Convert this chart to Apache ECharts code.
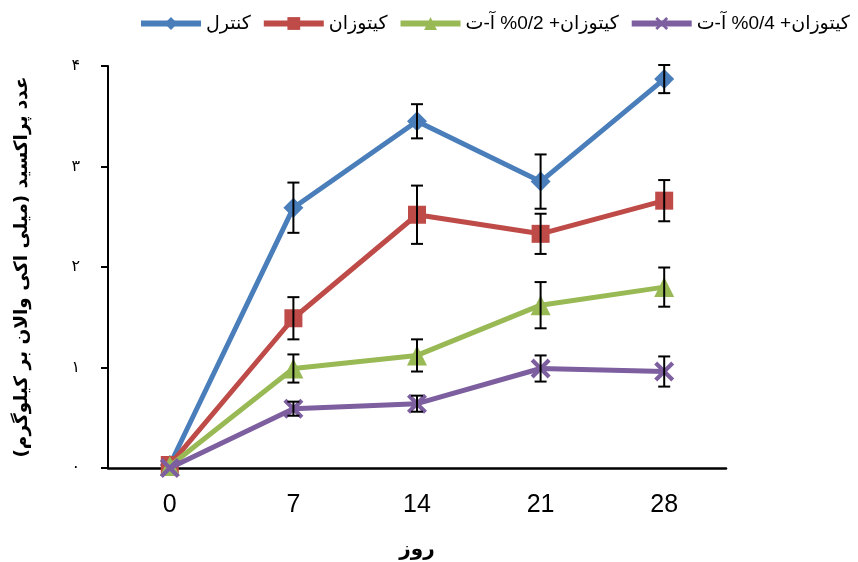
<!DOCTYPE html>
<html>
<head>
<meta charset="utf-8">
<script src="https://cdn.jsdelivr.net/npm/echarts@6/dist/echarts.min.js"></script>
<style>html,body{margin:0;padding:0;background:#fff}#c{width:858px;height:562px}</style>
</head>
<body>
<div id="c"></div>
<script>
const days = ['0', '7', '14', '21', '28'];
const seriesNames = ['کنترل', 'کیتوزان', 'کیتوزان+ 0/2% آ-ت', 'کیتوزان+ 0/4% آ-ت'];
const control = [0.03, 2.59, 3.45, 2.85, 3.87];
const controlErr = [0, 0.25, 0.17, 0.27, 0.14];
const chitosan = [0.03, 1.49, 2.52, 2.33, 2.66];
const chitosanErr = [0, 0.21, 0.29, 0.2, 0.205];
const chit02 = [0.02, 0.99, 1.12, 1.62, 1.80];
const chit02Err = [0, 0.14, 0.16, 0.23, 0.195];
const chit04 = [0.0, 0.59, 0.64, 0.99, 0.96];
const chit04Err = [0, 0.07, 0.08, 0.13, 0.15];
const yTicks = ['۰', '۱', '۲', '۳', '۴'];
const colors = ['#4a7ebb', '#be4b48', '#98b954', '#7d5fa0'];
const symbols = ['diamond', 'rect', 'triangle', 'path://M0,1.5L1.5,0L5,3.5L8.5,0L10,1.5L6.5,5L10,8.5L8.5,10L5,6.5L1.5,10L0,8.5L3.5,5Z'];
const symbolSizes = [20, 18, 20, 20];

const values = [control, chitosan, chit02, chit04];
const errs = [controlErr, chitosanErr, chit02Err, chit04Err];

const chart = echarts.init(document.getElementById('c'));
const series = [];
values.forEach((v, i) => {
  series.push({
    name: seriesNames[i], type: 'line', data: v,
    symbol: symbols[i], symbolSize: symbolSizes[i],
    lineStyle: {color: colors[i], width: 5},
    itemStyle: {color: colors[i]},
    z: 2 + i
  });
});
values.forEach((v, i) => {
  series.push({
    type: 'custom', z: 20, silent: true,
    data: v.map((val, k) => [k, val, errs[i][k]]),
    renderItem: function (params, api) {
      const x = api.value(0), val = api.value(1), e = api.value(2);
      if (!e) return null;
      const top = api.coord([x, val + e]);
      const bot = api.coord([x, val - e]);
      const w = 6;
      const st = {stroke: '#000', lineWidth: 2};
      return {type: 'group', children: [
        {type: 'line', shape: {x1: top[0], y1: top[1], x2: bot[0], y2: bot[1]}, style: st},
        {type: 'line', shape: {x1: top[0] - w, y1: top[1], x2: top[0] + w, y2: top[1]}, style: st},
        {type: 'line', shape: {x1: bot[0] - w, y1: bot[1], x2: bot[0] + w, y2: bot[1]}, style: st}
      ]};
    }
  });
});

chart.setOption({
  animation: false,
  backgroundColor: '#fff',
  legend: {
    data: seriesNames, left: 133, top: 9, width: 725, itemWidth: 60, itemHeight: 16, itemGap: 10,
    lineStyle: {width: 6},
    textStyle: {fontFamily: 'Liberation Sans, DejaVu Sans', fontSize: 19, color: '#000'}
  },
  grid: {left: 108, right: 132, top: 66, bottom: 94, containLabel: false, outerBoundsMode: 'none'},
  xAxis: {
    type: 'category', data: days,
    name: 'روز', nameLocation: 'middle', nameGap: 72,
    nameTextStyle: {fontFamily: 'DejaVu Sans', fontWeight: 'bold', fontSize: 20, color: '#000'},
    axisLine: {lineStyle: {color: '#000', width: 2.5}},
    axisTick: {show: false},
    axisLabel: {margin: 25, color: '#000', fontSize: 25, fontFamily: 'Liberation Sans'}
  },
  yAxis: {
    type: 'value', min: 0, max: 4, interval: 1,
    name: 'عدد پراکسید (میلی اکی والان بر کیلوگرم)', nameLocation: 'middle', nameGap: 76, nameRotate: 90,
    nameTextStyle: {fontFamily: 'DejaVu Sans', fontWeight: 'bold', fontSize: 18.5, color: '#000'},
    axisLine: {show: true, lineStyle: {color: '#000', width: 2}},
    axisTick: {show: true, length: 7, lineStyle: {color: '#000', width: 2}},
    splitLine: {show: false},
    axisLabel: {margin: 28, color: '#000', fontSize: 16, fontFamily: 'DejaVu Sans',
      formatter: function (v) { return yTicks[Math.round(v)]; }}
  },
  series: series
});
</script>
</body>
</html>
